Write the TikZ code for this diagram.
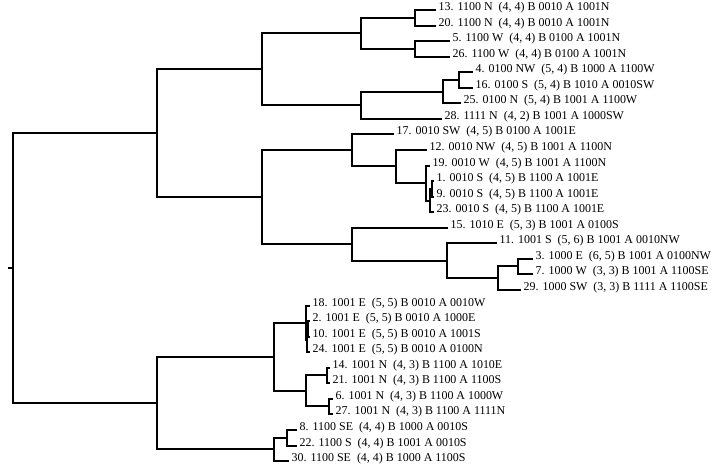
\documentclass[tikz,border=0pt]{standalone}
\usepackage{fontspec}
\setmainfont{Liberation Serif}
\tikzset{
  br/.style={line width=1.8bp, line join=miter},
  lab/.style={anchor=base west, inner sep=0pt, xshift=2.5bp, yshift=-0.8bp, font=\fontsize{12}{14}\selectfont}
}
\newcommand\myleaf[5]{\coordinate (lf#1) at (#2,#3); \node[lab] (t#1) at (lf#1) {#1. #4\ \ #5};}
\newcommand\mybr[3]{\draw[br] (#2) -| (#1) |- (#3);}
\begin{document}
\begin{tikzpicture}[x=1bp,y=-1bp]
\useasboundingbox (0,0) rectangle (713,467);
% leaves
\myleaf{13}{436}{10}{1100 N}{(4, 4) B 0010 A 1001N}
\myleaf{20}{436}{26}{1100 N}{(4, 4) B 0010 A 1001N}
\myleaf{5}{450}{41}{1100 W}{(4, 4) B 0100 A 1001N}
\myleaf{26}{450}{57}{1100 W}{(4, 4) B 0100 A 1001N}
\myleaf{4}{473}{72}{0100 NW}{(5, 4) B 1000 A 1100W}
\myleaf{16}{473}{88}{0100 S}{(5, 4) B 1010 A 0010SW}
\myleaf{25}{461}{103}{0100 N}{(5, 4) B 1001 A 1100W}
\myleaf{28}{442}{119}{1111 N}{(4, 2) B 1001 A 1000SW}
\myleaf{17}{394}{134}{0010 SW}{(4, 5) B 0100 A 1001E}
\myleaf{12}{427}{150}{0010 NW}{(4, 5) B 1001 A 1100N}
\myleaf{19}{430}{166}{0010 W}{(4, 5) B 1001 A 1100N}
\myleaf{1}{434}{181}{0010 S}{(4, 5) B 1100 A 1001E}
\myleaf{9}{434}{197}{0010 S}{(4, 5) B 1100 A 1001E}
\myleaf{23}{434}{212}{0010 S}{(4, 5) B 1100 A 1001E}
\myleaf{15}{448}{228}{1010 E}{(5, 3) B 1001 A 0100S}
\myleaf{11}{497}{243}{1001 S}{(5, 6) B 1001 A 0010NW}
\myleaf{3}{533}{259}{1000 E}{(6, 5) B 1001 A 0100NW}
\myleaf{7}{533}{274}{1000 W}{(3, 3) B 1001 A 1100SE}
\myleaf{29}{521}{290}{1000 SW}{(3, 3) B 1111 A 1100SE}
\myleaf{18}{310}{306}{1001 E}{(5, 5) B 0010 A 0010W}
\myleaf{2}{310}{321}{1001 E}{(5, 5) B 0010 A 1000E}
\myleaf{10}{310}{337}{1001 E}{(5, 5) B 0010 A 1001S}
\myleaf{24}{310}{352}{1001 E}{(5, 5) B 0010 A 0100N}
\myleaf{14}{330}{368}{1001 N}{(4, 3) B 1100 A 1010E}
\myleaf{21}{330}{383}{1001 N}{(4, 3) B 1100 A 1100S}
\myleaf{6}{333}{399}{1001 N}{(4, 3) B 1100 A 1000W}
\myleaf{27}{333}{414}{1001 N}{(4, 3) B 1100 A 1111N}
\myleaf{8}{297}{430}{1100 SE}{(4, 4) B 1000 A 0010S}
\myleaf{22}{297}{446}{1100 S}{(4, 4) B 1001 A 0010S}
\myleaf{30}{289}{461}{1100 SE}{(4, 4) B 1000 A 1100S}
% internal nodes
\coordinate (n1320) at (415,18);
\coordinate (n526) at (415,49);
\coordinate (A1) at (361,33);
\coordinate (n416) at (459,80);
\coordinate (n41625) at (443,92);
\coordinate (A2) at (361,105);
\coordinate (A) at (262,69);
\coordinate (n19) at (432,189);
\coordinate (n1923) at (430,201);
\coordinate (n19g) at (426,183);
\coordinate (B1b) at (396,166);
\coordinate (B1) at (352,150);
\coordinate (n37) at (518,266);
\coordinate (n3729) at (498,278);
\coordinate (n11g) at (447,261);
\coordinate (B2) at (352,244);
\coordinate (B) at (262,197);
\coordinate (T) at (157,133);
\coordinate (n210) at (308,329);
\coordinate (n21024) at (307,340);
\coordinate (n18g) at (306,323);
\coordinate (n1421) at (327,375);
\coordinate (n627) at (329,406);
\coordinate (n14g) at (306,391);
\coordinate (U1) at (274,357);
\coordinate (n822) at (287,438);
\coordinate (U2) at (274,449);
\coordinate (U) at (157,403);
\coordinate (root) at (13,268);
\coordinate (stub) at (8,268);
% brackets
\mybr{n1320}{lf13}{lf20}
\mybr{n526}{lf5}{lf26}
\mybr{A1}{n1320}{n526}
\mybr{n416}{lf4}{lf16}
\mybr{n41625}{n416}{lf25}
\mybr{A2}{n41625}{lf28}
\mybr{A}{A1}{A2}
\mybr{n19}{lf1}{lf9}
\mybr{n1923}{n19}{lf23}
\mybr{n19g}{lf19}{n1923}
\mybr{B1b}{lf12}{n19g}
\mybr{B1}{lf17}{B1b}
\mybr{n37}{lf3}{lf7}
\mybr{n3729}{n37}{lf29}
\mybr{n11g}{lf11}{n3729}
\mybr{B2}{lf15}{n11g}
\mybr{B}{B1}{B2}
\mybr{T}{A}{B}
\mybr{n210}{lf2}{lf10}
\mybr{n21024}{n210}{lf24}
\mybr{n18g}{lf18}{n21024}
\mybr{n1421}{lf14}{lf21}
\mybr{n627}{lf6}{lf27}
\mybr{n14g}{n1421}{n627}
\mybr{U1}{n18g}{n14g}
\mybr{n822}{lf8}{lf22}
\mybr{U2}{n822}{lf30}
\mybr{U}{U1}{U2}
\mybr{root}{T}{U}
\draw[br] (stub) -- (root);
\end{tikzpicture}
\end{document}
